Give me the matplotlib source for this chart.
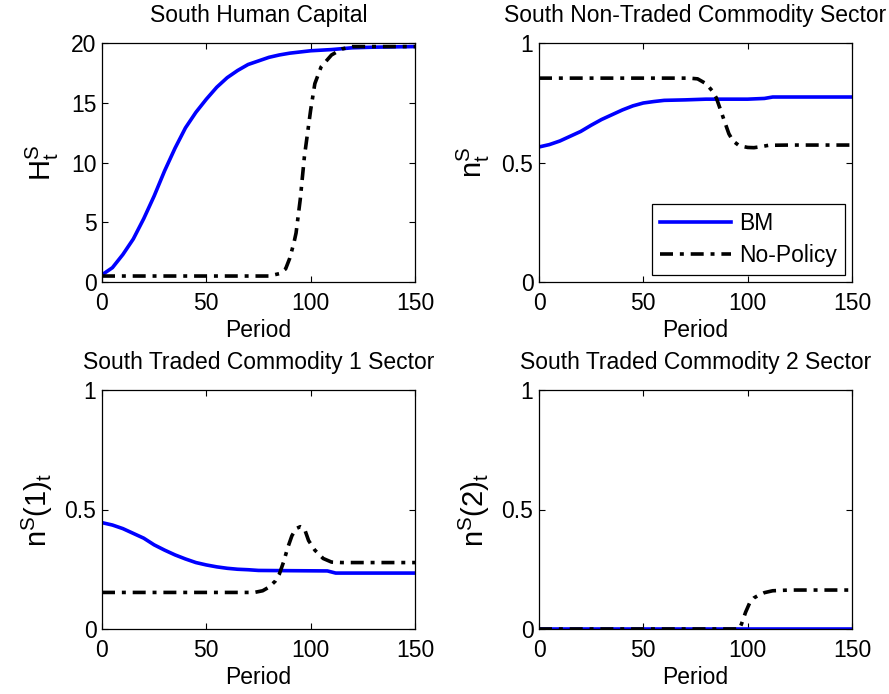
import matplotlib
matplotlib.use("Agg")
import matplotlib.pyplot as plt

plt.rcParams['font.family'] = ['Liberation Sans', 'DejaVu Sans']
plt.rcParams['mathtext.fontset'] = 'custom'
plt.rcParams['mathtext.rm'] = 'Liberation Sans'
plt.rcParams['mathtext.it'] = 'Liberation Sans'

# ---- data ----
period_bm_h = [0, 5, 10, 15, 20, 25, 30, 35, 40, 45, 50, 55, 60, 65, 70, 75, 80, 85, 90, 95, 100, 105, 110, 120, 130, 150]
h_bm = [0.6, 1.2, 2.3, 3.6, 5.3, 7.2, 9.3, 11.2, 12.9, 14.2, 15.3, 16.3, 17.1, 17.7, 18.2, 18.5, 18.8, 19.0, 19.15, 19.25, 19.35, 19.4, 19.45, 19.6, 19.65, 19.7]
period_np_h = [0, 20, 40, 60, 80, 85, 88, 90, 92, 93, 95, 97, 100, 102, 105, 110, 115, 120, 130, 150]
h_np = [0.5, 0.5, 0.5, 0.5, 0.5, 0.7, 1.1, 2.0, 3.3, 4.1, 6.9, 10.5, 14.4, 16.6, 18.0, 19.0, 19.5, 19.7, 19.7, 19.7]

period_nt_bm = [0, 5, 10, 15, 20, 25, 30, 35, 40, 45, 50, 55, 60, 70, 80, 90, 100, 108, 112, 150]
nt_bm = [0.565, 0.575, 0.59, 0.61, 0.63, 0.656, 0.68, 0.70, 0.72, 0.737, 0.749, 0.755, 0.76, 0.762, 0.765, 0.765, 0.765, 0.768, 0.774, 0.774]
period_nt_np = [0, 20, 40, 60, 72, 76, 80, 83, 85, 87, 89, 91, 93, 96, 100, 103, 107, 110, 120, 150]
nt_np = [0.853, 0.853, 0.853, 0.853, 0.853, 0.85, 0.83, 0.80, 0.77, 0.72, 0.67, 0.62, 0.59, 0.57, 0.563, 0.562, 0.567, 0.572, 0.573, 0.573]

period_c1_bm = [0, 5, 10, 15, 20, 25, 30, 35, 40, 45, 50, 55, 60, 65, 70, 75, 90, 108, 112, 150]
c1_bm = [0.445, 0.435, 0.42, 0.40, 0.38, 0.352, 0.33, 0.31, 0.293, 0.278, 0.268, 0.26, 0.254, 0.25, 0.248, 0.245, 0.244, 0.243, 0.234, 0.234]
period_c1_np = [0, 20, 40, 60, 73, 77, 80, 83, 85, 87, 89, 91, 93, 95, 97, 99, 102, 106, 110, 115, 150]
c1_np = [0.153, 0.153, 0.153, 0.153, 0.153, 0.16, 0.175, 0.20, 0.23, 0.28, 0.34, 0.39, 0.42, 0.428, 0.42, 0.37, 0.33, 0.295, 0.28, 0.278, 0.278]

period_c2_bm = [0, 50, 100, 150]
c2_bm = [0.0, 0.0, 0.0, 0.0]
period_c2_np = [0, 20, 40, 60, 80, 96, 97, 99, 101, 103, 105, 108, 112, 120, 150]
c2_np = [0.0, 0.0, 0.0, 0.0, 0.0, 0.0, 0.02, 0.07, 0.11, 0.13, 0.14, 0.152, 0.16, 0.163, 0.163]

titles = ['South Human Capital', 'South Non-Traded Commodity Sector',
          'South Traded Commodity 1 Sector', 'South Traded Commodity 2 Sector']
ylabels = [r'$\mathrm{H^S_t}$', r'$\mathrm{n^S_t}$', r'$\mathrm{n^S(1)_t}$', r'$\mathrm{n^S(2)_t}$']
ylims = [(0, 20), (0, 1), (0, 1), (0, 1)]
yticks = [[0, 5, 10, 15, 20], [0, 0.5, 1], [0, 0.5, 1], [0, 0.5, 1]]
yticklabels = [['0', '5', '10', '15', '20'], ['0', '0.5', '1'], ['0', '0.5', '1'], ['0', '0.5', '1']]
xticks = [0, 50, 100, 150]

series = [
    (period_bm_h, h_bm, period_np_h, h_np),
    (period_nt_bm, nt_bm, period_nt_np, nt_np),
    (period_c1_bm, c1_bm, period_c1_np, c1_np),
    (period_c2_bm, c2_bm, period_c2_np, c2_np),
]

fig = plt.figure(figsize=(8.89, 6.94), dpi=100)
W, H = 889, 694
boxes = [(102, 43), (539, 43), (102, 390), (539, 390)]
aw, ah = 313, 239
fs = 16.5

for i, (bx, by) in enumerate(boxes):
    ax = fig.add_axes([bx / W, 1 - (by + ah) / H, aw / W, ah / H])
    xb, yb, xn, yn = series[i]
    lw = 2.6
    l1, = ax.plot(xb, yb, color='#0000ff', lw=lw, label='BM')
    l2, = ax.plot(xn, yn, color='black', lw=lw, label='No-Policy')
    l2.set_dashes([3.6, 1.9, 1.1, 1.9])
    ax.set_xlim(0, 150)
    ax.set_ylim(*ylims[i])
    ax.set_xticks(xticks)
    ax.set_xticklabels([str(t) for t in xticks])
    ax.set_yticks(yticks[i])
    ax.set_yticklabels(yticklabels[i])
    ax.tick_params(direction='in', top=True, right=True, length=4, width=0.8,
                   labelsize=fs)
    ax.tick_params(axis='x', pad=7)
    ax.tick_params(axis='y', pad=4)
    ax.set_title(titles[i], fontsize=fs, pad=15)
    ax.set_xlabel('Period', fontsize=fs, labelpad=3)
    ax.set_ylabel(ylabels[i], fontsize=21, labelpad=7)
    for sp in ax.spines.values():
        sp.set_linewidth(0.9)
    if i == 1:
        leg = ax.legend(loc='lower right', fontsize=fs, handlelength=3.1,
                        handletextpad=0.35, fancybox=False, edgecolor='black',
                        framealpha=1, borderaxespad=0.3, labelspacing=0.4,
                        borderpad=0.35)
        leg.get_frame().set_linewidth(0.9)

fig.savefig('out.png', dpi=100)
